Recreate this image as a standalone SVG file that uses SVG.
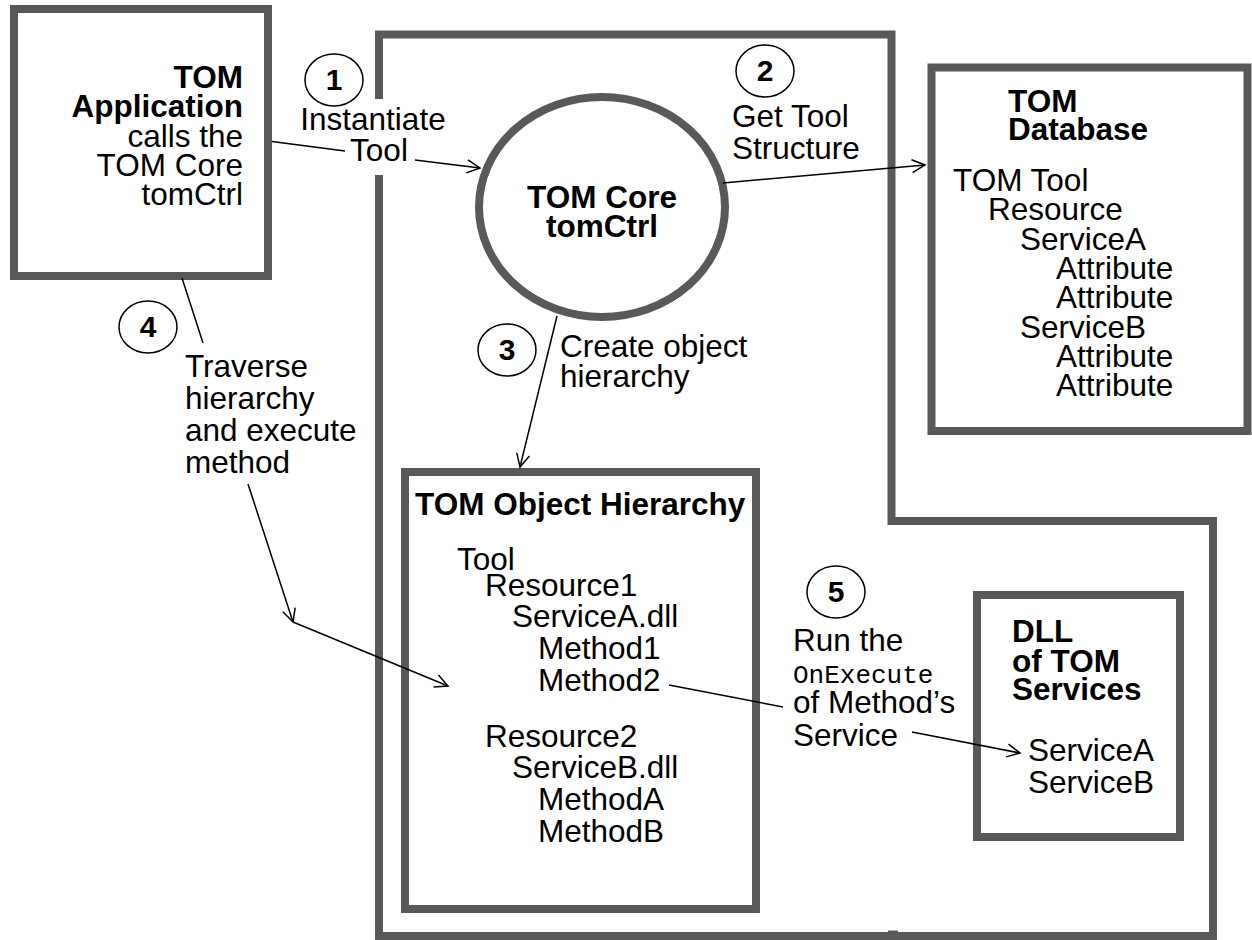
<svg xmlns="http://www.w3.org/2000/svg" width="1252" height="940" viewBox="0 0 1252 940">
  <style>
    .box { fill: #ffffff; stroke: #595959; stroke-width: 8; }
    .frame { fill: none; stroke: #595959; stroke-width: 8; stroke-linejoin: miter; }
    .step { fill: #ffffff; stroke: #000000; stroke-width: 1.5; }
    .wire { fill: none; stroke: #000000; stroke-width: 1.5; }
    text { font-family: "Liberation Sans", Arial, Helvetica, sans-serif; font-size: 31.5px; fill: #000000; }
    .b { font-weight: bold; }
    .num { font-weight: bold; font-size: 30px; text-anchor: middle; }
    .mid { text-anchor: middle; }
    .end { text-anchor: end; }
    .mono { font-family: "Liberation Mono", "Courier New", monospace; font-size: 26px; }
  </style>
  <defs>
    <marker id="arrow" markerUnits="userSpaceOnUse" markerWidth="20" markerHeight="20" refX="15" refY="8" orient="auto" overflow="visible">
      <path d="M2,1.5 L15,8 L2,14.5" fill="none" stroke="#000000" stroke-width="1.5"/>
    </marker>
  </defs>

  <rect width="1252" height="940" fill="#ffffff"/>

  <!-- TOM Core boundary -->
  <g id="core-boundary">
    <path class="frame" d="M379,34.5 L891.5,34.5 L891.5,521 L1213,521 L1213,936 L379,936 Z"/>
    <rect x="888" y="930.5" width="10" height="2" fill="#595959"/>
    <rect x="372" y="99" width="16" height="76" fill="#ffffff"/>
  </g>

  <!-- TOM Application -->
  <g id="tom-application">
    <rect class="box" x="14" y="9" width="254" height="267"/>
    <text class="b end" x="243" y="88">TOM</text>
    <text class="b end" x="243" y="117">Application</text>
    <text class="end" x="243" y="147">calls the</text>
    <text class="end" x="243" y="176">TOM Core</text>
    <text class="end" x="243" y="205">tomCtrl</text>
  </g>

  <!-- TOM Core -->
  <g id="tom-core">
    <ellipse cx="602" cy="207" rx="123" ry="110" fill="#ffffff" stroke="#595959" stroke-width="8"/>
    <text class="b mid" x="602" y="208">TOM Core</text>
    <text class="b mid" x="602" y="237">tomCtrl</text>
  </g>

  <!-- TOM Database -->
  <g id="tom-database">
    <rect class="box" x="931.5" y="67.5" width="316" height="363.5"/>
    <text class="b" x="1008" y="112">TOM</text>
    <text class="b" x="1008" y="140">Database</text>
    <text x="953" y="191">TOM Tool</text>
    <text x="988" y="220">Resource</text>
    <text x="1020" y="250">ServiceA</text>
    <text x="1056" y="279">Attribute</text>
    <text x="1056" y="308">Attribute</text>
    <text x="1020" y="338">ServiceB</text>
    <text x="1056" y="367">Attribute</text>
    <text x="1056" y="396">Attribute</text>
  </g>

  <!-- TOM Object Hierarchy -->
  <g id="tom-object-hierarchy">
    <rect class="box" x="405" y="472" width="351" height="437"/>
    <text class="b" x="415" y="515">TOM Object Hierarchy</text>
    <text x="457" y="570">Tool</text>
    <text x="485" y="596">Resource1</text>
    <text x="512" y="627">ServiceA.dll</text>
    <text x="538" y="659">Method1</text>
    <text x="538" y="691">Method2</text>
    <text x="485" y="747">Resource2</text>
    <text x="512" y="778">ServiceB.dll</text>
    <text x="538" y="810">MethodA</text>
    <text x="538" y="842">MethodB</text>
  </g>

  <!-- DLL of TOM Services -->
  <g id="dll-services">
    <rect class="box" x="977" y="595" width="203" height="242"/>
    <text class="b" x="1012" y="642">DLL</text>
    <text class="b" x="1012" y="672">of TOM</text>
    <text class="b" x="1012" y="700">Services</text>
    <text x="1028" y="761">ServiceA</text>
    <text x="1028" y="793">ServiceB</text>
  </g>

  <!-- Connectors -->
  <g id="connectors">
    <path class="wire" d="M272,141.5 L345,151 M415,160 L480,168" marker-end="url(#arrow)"/>
    <path class="wire" d="M723,183 L925,165" marker-end="url(#arrow)"/>
    <path class="wire" d="M557,316 L520,467" marker-end="url(#arrow)"/>
    <path class="wire" d="M182,278 L203,343 M248,484 L293,622" marker-end="url(#arrow)"/>
    <path class="wire" d="M293,622 L448,686" marker-end="url(#arrow)"/>
    <path class="wire" d="M669,685 L783,707 M912,732 L1020,753" marker-end="url(#arrow)"/>
  </g>

  <!-- Step labels -->
  <g id="step-1">
    <ellipse class="step" cx="334" cy="80" rx="29" ry="26"/>
    <text class="num" x="334" y="90">1</text>
    <text class="mid" x="373" y="130">Instantiate</text>
    <text class="mid" x="379" y="161">Tool</text>
  </g>
  <g id="step-2">
    <ellipse class="step" cx="765" cy="71" rx="29" ry="26"/>
    <text class="num" x="765" y="81">2</text>
    <text x="732" y="127">Get Tool</text>
    <text x="732" y="159">Structure</text>
  </g>
  <g id="step-3">
    <ellipse class="step" cx="507" cy="350" rx="29" ry="26"/>
    <text class="num" x="507" y="360">3</text>
    <text x="560" y="357">Create object</text>
    <text x="560" y="387">hierarchy</text>
  </g>
  <g id="step-4">
    <ellipse class="step" cx="148" cy="327" rx="29" ry="26"/>
    <text class="num" x="148" y="337">4</text>
    <text x="185" y="377">Traverse</text>
    <text x="185" y="409">hierarchy</text>
    <text x="185" y="441">and execute</text>
    <text x="185" y="473">method</text>
  </g>
  <g id="step-5">
    <ellipse class="step" cx="836" cy="592" rx="29" ry="26"/>
    <text class="num" x="836" y="602">5</text>
    <text x="793" y="651">Run the</text>
    <text class="mono" x="793" y="683">OnExecute</text>
    <text x="793" y="713">of Method’s</text>
    <text x="793" y="746">Service</text>
  </g>
</svg>
